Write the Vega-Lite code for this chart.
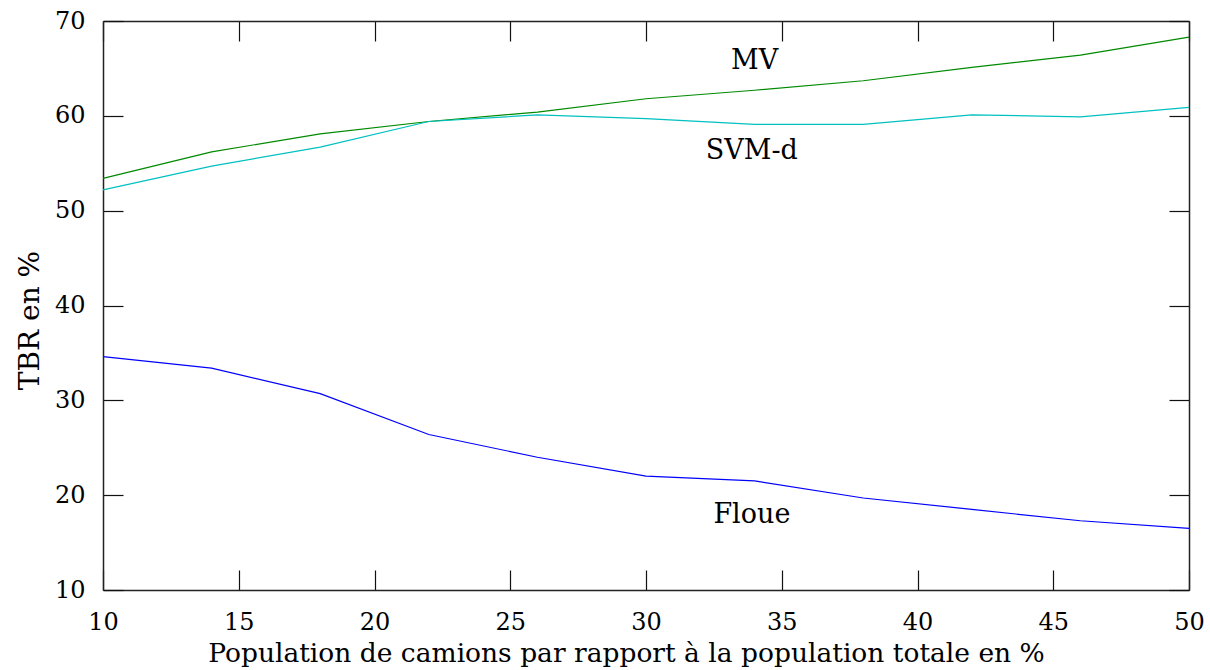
{
  "$schema": "https://vega.github.io/schema/vega-lite/v6.json",
  "width": 1086,
  "height": 569,
  "autosize": "none",
  "padding": {"left": 103, "top": 21, "right": 21, "bottom": 80},
  "background": "white",
  "config": {
    "view": {"stroke": null},
    "font": "DejaVu Serif",
    "axis": {
      "grid": false,
      "domainColor": "#222222",
      "domainWidth": 1.5,
      "tickColor": "#111111",
      "tickWidth": 1.2,
      "labelFont": "DejaVu Serif",
      "labelFontSize": 24,
      "labelColor": "#000000",
      "labelFlush": false,
      "titleFont": "DejaVu Serif",
      "titleFontSize": 26.5,
      "titleFontWeight": "normal",
      "titleColor": "#000000"
    }
  },
  "datasets": {
    "series": [
      {"x": 10, "y": 53.4, "s": "MV"},
      {"x": 14, "y": 56.2, "s": "MV"},
      {"x": 18, "y": 58.1, "s": "MV"},
      {"x": 22, "y": 59.4, "s": "MV"},
      {"x": 26, "y": 60.4, "s": "MV"},
      {"x": 30, "y": 61.8, "s": "MV"},
      {"x": 34, "y": 62.7, "s": "MV"},
      {"x": 38, "y": 63.7, "s": "MV"},
      {"x": 42, "y": 65.1, "s": "MV"},
      {"x": 46, "y": 66.4, "s": "MV"},
      {"x": 50, "y": 68.3, "s": "MV"},
      {"x": 10, "y": 52.2, "s": "SVM-d"},
      {"x": 14, "y": 54.7, "s": "SVM-d"},
      {"x": 18, "y": 56.7, "s": "SVM-d"},
      {"x": 22, "y": 59.4, "s": "SVM-d"},
      {"x": 26, "y": 60.1, "s": "SVM-d"},
      {"x": 30, "y": 59.7, "s": "SVM-d"},
      {"x": 34, "y": 59.1, "s": "SVM-d"},
      {"x": 38, "y": 59.1, "s": "SVM-d"},
      {"x": 42, "y": 60.1, "s": "SVM-d"},
      {"x": 46, "y": 59.9, "s": "SVM-d"},
      {"x": 50, "y": 60.9, "s": "SVM-d"},
      {"x": 10, "y": 34.6, "s": "Floue"},
      {"x": 14, "y": 33.4, "s": "Floue"},
      {"x": 18, "y": 30.7, "s": "Floue"},
      {"x": 22, "y": 26.4, "s": "Floue"},
      {"x": 26, "y": 24.0, "s": "Floue"},
      {"x": 30, "y": 22.0, "s": "Floue"},
      {"x": 34, "y": 21.5, "s": "Floue"},
      {"x": 38, "y": 19.7, "s": "Floue"},
      {"x": 42, "y": 18.5, "s": "Floue"},
      {"x": 46, "y": 17.3, "s": "Floue"},
      {"x": 50, "y": 16.5, "s": "Floue"}
    ],
    "labels": [
      {"x": 34, "y": 65.8, "t": "MV"},
      {"x": 33.9, "y": 56.3, "t": "SVM-d"},
      {"x": 33.9, "y": 17.9, "t": "Floue"}
    ]
  },
  "layer": [
    {
      "data": {"name": "series"},
      "mark": {"type": "line", "strokeWidth": 1.2},
      "encoding": {
        "x": {
          "field": "x", "type": "quantitative",
          "scale": {"domain": [10, 50], "nice": false, "zero": false},
          "axis": {
            "orient": "bottom",
            "values": [10, 15, 20, 25, 30, 35, 40, 45, 50],
            "tickSize": -20,
            "labelPadding": 40,
            "title": "Population de camions par rapport à la population totale en %",
            "titlePadding": 6,
            "titleX": 523,
            "titleAlign": "center"
          }
        },
        "y": {
          "field": "y", "type": "quantitative",
          "scale": {"domain": [10, 70], "nice": false, "zero": false},
          "axis": {
            "orient": "left",
            "values": [10, 20, 30, 40, 50, 60, 70],
            "tickSize": -20,
            "labelPadding": 38,
            "title": "TBR en %",
            "titleFontSize": 28,
            "titlePadding": 10,
            "titleY": 299,
            "titleAlign": "center"
          }
        },
        "color": {
          "field": "s", "type": "nominal",
          "scale": {"domain": ["MV", "SVM-d", "Floue"], "range": ["#008a00", "#00c0c0", "#0000ff"]},
          "legend": null
        }
      }
    },
    {
      "data": {"name": "series"},
      "mark": {"type": "line", "opacity": 0},
      "encoding": {
        "x": {
          "field": "x", "type": "quantitative",
          "axis": {
            "orient": "top",
            "values": [10, 15, 20, 25, 30, 35, 40, 45, 50],
            "tickSize": -20,
            "labels": false,
            "title": null
          }
        },
        "y": {
          "field": "y", "type": "quantitative",
          "axis": {
            "orient": "right",
            "values": [10, 20, 30, 40, 50, 60, 70],
            "tickSize": -20,
            "labels": false,
            "title": null
          }
        },
        "detail": {"field": "s"}
      }
    },
    {
      "data": {"name": "labels"},
      "mark": {"type": "text", "fontSize": 27, "font": "DejaVu Serif", "color": "#000000", "baseline": "middle", "align": "center"},
      "encoding": {
        "x": {"field": "x", "type": "quantitative", "axis": null},
        "y": {"field": "y", "type": "quantitative", "axis": null},
        "text": {"field": "t", "type": "nominal"}
      }
    }
  ],
  "resolve": {"axis": {"x": "independent", "y": "independent"}}
}
